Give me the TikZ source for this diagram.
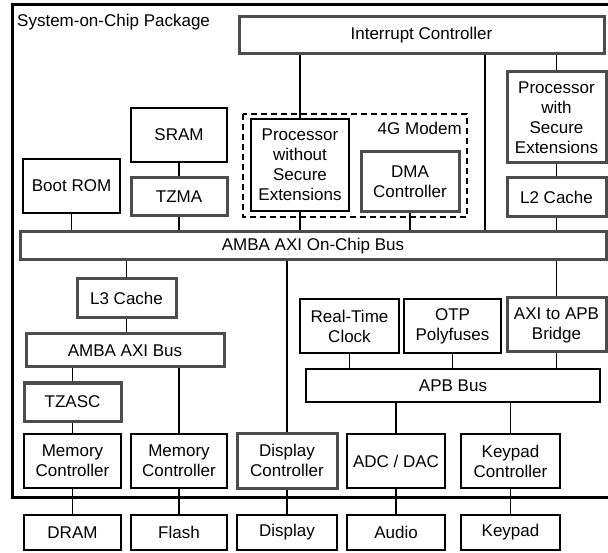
\documentclass[tikz,border=0pt]{standalone}
\usepackage{fontspec}
\setmainfont{Liberation Sans}
\begin{document}
\begin{tikzpicture}[x=1pt,y=-1pt,
  every node/.style={font=\fontsize{17}{20}\selectfont},
  plainbox/.style={draw=black, line width=1.2pt, align=center, inner sep=0pt, fill=white},
  securebox/.style={draw=black!70, line width=3pt, align=center, inner sep=0pt, fill=white},
  wire/.style={line width=1.1pt}]
\useasboundingbox (0,0) rectangle (608,553);
\fill[white] (0,0) rectangle (608,553);
% outer package
\begin{scope}
\clip (0,0) rectangle (608,553);
\draw[line width=3pt] (12,5) rectangle (625,497);
\end{scope}
\node[anchor=west, inner sep=0pt] (title) at (17,22) {System-on-Chip Package};
% 4G modem dashed region
\draw[line width=1.2pt, dash pattern=on 6pt off 4pt] (243,114) rectangle (467,217);
\node[anchor=east, inner sep=0pt] (modem) at (462,128) {4G Modem};
% top
\node[securebox, minimum width=365pt, minimum height=37pt] (ic) at (421.5,35.5) {Interrupt Controller};
\node[securebox, minimum width=99pt, minimum height=91pt] (pws) at (556.5,117.5) {Processor\\with\\Secure\\Extensions};
\node[securebox, minimum width=99pt, minimum height=39pt] (l2) at (556.5,197.5) {L2 Cache};
\node[securebox, minimum width=586pt, minimum height=28pt] (bus) at (313,246) {AMBA AXI On-Chip Bus};
\node[plainbox, minimum width=98pt, minimum height=92pt] (pwo) at (300,165) {Processor\\without\\Secure\\Extensions};
\node[securebox, minimum width=98pt, minimum height=60pt] (dma) at (410,182) {DMA\\Controller};
\node[plainbox, minimum width=96pt, minimum height=54pt] (sram) at (179,135) {SRAM};
\node[securebox, minimum width=96pt, minimum height=38pt] (tzma) at (179,197) {TZMA};
\node[plainbox, minimum width=97pt, minimum height=54pt] (brom) at (71.5,186) {Boot ROM};
% left lower
\node[securebox, minimum width=99pt, minimum height=39pt] (l3) at (126.5,298.5) {L3 Cache};
\node[securebox, minimum width=198pt, minimum height=33pt] (axib) at (125,350.5) {AMBA AXI Bus};
\node[securebox, minimum width=97pt, minimum height=38pt] (tzasc) at (72.5,402) {TZASC};
\node[plainbox, minimum width=97pt, minimum height=54pt] (mc1) at (72.5,461) {Memory\\Controller};
\node[plainbox, minimum width=96pt, minimum height=54pt] (mc2) at (179,461) {Memory\\Controller};
\node[securebox, minimum width=100pt, minimum height=55pt] (dc) at (287,460.5) {Display\\Controller};
\node[plainbox, minimum width=98pt, minimum height=54pt] (adc) at (396,461) {ADC / DAC};
\node[plainbox, minimum width=99pt, minimum height=54pt] (kc) at (510.5,461) {Keypad\\Controller};
% right middle
\node[plainbox, minimum width=99pt, minimum height=54pt] (rtc) at (349.5,326) {Real-Time\\Clock};
\node[plainbox, minimum width=97pt, minimum height=54pt] (otp) at (452.5,326) {OTP\\Polyfuses};
\node[securebox, minimum width=99pt, minimum height=54pt] (bridge) at (556.5,325) {AXI to APB\\Bridge};
\node[plainbox, minimum width=294pt, minimum height=33pt] (apb) at (453,385.5) {APB Bus};
% external
\node[plainbox, minimum width=97pt, minimum height=35pt] (dram) at (72.5,532.5) {DRAM};
\node[plainbox, minimum width=96pt, minimum height=35pt] (flash) at (179,532.5) {Flash};
\node[plainbox, minimum width=100pt, minimum height=35pt] (disp) at (287,532.5) {Display};
\node[plainbox, minimum width=98pt, minimum height=35pt] (audio) at (396,532.5) {Audio};
\node[plainbox, minimum width=99pt, minimum height=35pt] (keypad) at (510.5,532.5) {Keypad};
% connectors
\coordinate (icx) at (485,0);
\begin{scope}[wire]
\draw (pwo.north) -- (pwo.north |- ic.south);
\draw (ic.south -| icx) -- (bus.north -| icx);
\draw (pws.north) -- (pws.north |- ic.south);
\draw (pws) -- (l2);
\draw (l2) -- (l2 |- bus.north);
\draw (pwo.south) -- (pwo.south |- bus.north);
\draw (dma.south) -- (dma.south |- bus.north);
\draw (sram) -- (tzma);
\draw (tzma.south) -- (tzma.south |- bus.north);
\draw (brom.south) -- (brom.south |- bus.north);
\draw (l3.north) -- (l3.north |- bus.south);
\draw (l3.south) -- (l3.south |- axib.north);
\draw (tzasc.north) -- (tzasc.north |- axib.south);
\draw (tzasc) -- (mc1);
\draw (mc1) -- (dram);
\draw (mc2.north) -- (mc2.north |- axib.south);
\draw (mc2) -- (flash);
\draw (dc.north) -- (dc.north |- bus.south);
\draw (dc) -- (disp);
\draw (bridge.north) -- (bridge.north |- bus.south);
\draw (bridge.south) -- (bridge.south |- apb.north);
\draw (rtc.south) -- (rtc.south |- apb.north);
\draw (otp.south) -- (otp.south |- apb.north);
\draw (adc.north) -- (adc.north |- apb.south);
\draw (kc.north) -- (kc.north |- apb.south);
\draw (adc) -- (audio);
\draw (kc) -- (keypad);
\end{scope}
\end{tikzpicture}
\end{document}
